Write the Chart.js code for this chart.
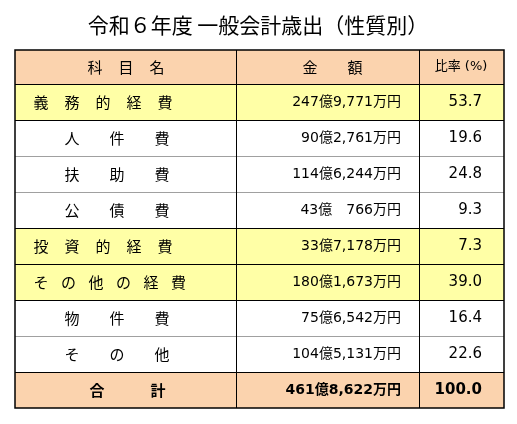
<!DOCTYPE html>
<html><head><meta charset="utf-8">
<script src="https://cdn.jsdelivr.net/npm/chart.js@4"></script>
<style>html,body{margin:0;padding:0;background:#fff}#w{width:517px;height:424px}</style>
</head><body><div id="w"><canvas id="c"></canvas></div>
<script>
const title = '令和６年度 一般会計歳出（性質別）';
const headers = ['科目名', '金　額', '比率 (%)'];
const names = ['義務的経費', '人件費', '扶助費', '公債費', '投資的経費', 'その他の経費', '物件費', 'その他', '合計'];
const amounts = ['247億9,771万円', '90億2,761万円', '114億6,244万円', '43億　766万円', '33億7,178万円', '180億1,673万円', '75億6,542万円', '104億5,131万円', '461億8,622万円'];
const ratios = [53.7, 19.6, 24.8, 9.3, 7.3, 39.0, 16.4, 22.6, 100.0];
const rowKinds = ['main', 'sub', 'sub', 'sub', 'main', 'main', 'sub', 'sub', 'total'];

const FONT = '"Noto Sans CJK JP", sans-serif';
const NUMFONT = '"DejaVu Sans", "Noto Sans CJK JP", sans-serif';
const tablePlugin = {
  id: 'table',
  afterDraw(chart) {
    const ctx = chart.ctx, X = chart.scales.x, Y = chart.scales.y;
    const px = v => X.getPixelForValue(v), py = v => Y.getPixelForValue(v);
    const L = 15, R = 504, c1 = 236, c2 = 419, top = 50, hh = 34, rh = 36;
    ctx.save();
    ctx.fillStyle = '#000'; ctx.textBaseline = 'middle';
    ctx.font = '21px ' + FONT; ctx.textAlign = 'center';
    ctx.fillText(title, px(258), py(25));
    const rowTop = i => top + hh + i * rh;
    ctx.fillStyle = '#fbd3ae';
    ctx.fillRect(px(L), py(top), px(R) - px(L), py(top + hh) - py(top));
    rowKinds.forEach((k, i) => {
      if (k === 'sub') return;
      ctx.fillStyle = k === 'main' ? '#ffffa6' : '#fbd3ae';
      ctx.fillRect(px(L), py(rowTop(i)), px(R) - px(L), py(rowTop(i) + rh) - py(rowTop(i)));
    });
    for (let i = 0; i < rowKinds.length; i++) {
      const y = py(rowTop(i)) + 0.5;
      const prevSub = i > 0 && rowKinds[i - 1] === 'sub' && rowKinds[i] === 'sub';
      ctx.strokeStyle = prevSub ? '#a0a0a0' : '#000'; ctx.lineWidth = 1;
      ctx.beginPath(); ctx.moveTo(px(L), y); ctx.lineTo(px(R), y); ctx.stroke();
    }
    ctx.strokeStyle = '#000'; ctx.lineWidth = 1.5;
    const bot = rowTop(rowKinds.length);
    ctx.strokeRect(px(L), py(top), px(R) - px(L), py(bot) - py(top));
    ctx.lineWidth = 1;
    [c1, c2].forEach(c => { ctx.beginPath(); ctx.moveTo(px(c) + .5, py(top)); ctx.lineTo(px(c) + .5, py(bot)); ctx.stroke(); });
    ctx.fillStyle = '#000'; ctx.font = '15px ' + FONT; ctx.textAlign = 'center';
    const hy = py(top + hh / 2);
    headers[0].split('').forEach((ch, j) => ctx.fillText(ch, px(95 + j * 31), hy));
    ctx.fillText(headers[1].split('　')[0], px(310), hy);
    ctx.fillText(headers[1].split('　')[1], px(355), hy);
    ctx.font = '13px ' + NUMFONT; ctx.fillText(headers[2], px(461), hy);
    rowKinds.forEach((k, i) => {
      const y = py(rowTop(i) + rh / 2);
      const bold = k === 'total' ? 'bold ' : '';
      ctx.font = bold + '15px ' + FONT; ctx.textAlign = 'center';
      const chs = names[i].split('');
      let xs;
      if (k === 'total') xs = [97, 158];
      else if (k === 'sub') xs = [72, 117, 162];
      else if (chs.length === 6) xs = chs.map((_, j) => 41 + j * 27.5);
      else xs = chs.map((_, j) => 41 + j * 31);
      chs.forEach((ch, j) => ctx.fillText(ch, px(xs[j]), y));
      ctx.textAlign = 'right';
      ctx.font = bold + '14px ' + NUMFONT;
      ctx.fillText(amounts[i], px(401), y);
      ctx.font = bold + '15px ' + NUMFONT;
      ctx.fillText(ratios[i].toFixed(1), px(482), y);
    });
    ctx.restore();
  }
};
new Chart(document.getElementById('c'), {
  type: 'scatter',
  data: { datasets: [{ data: [] }] },
  options: {
    responsive: true, maintainAspectRatio: false, animation: false,
    layout: { padding: 0 },
    plugins: { legend: { display: false }, tooltip: { enabled: false } },
    scales: {
      x: { type: 'linear', min: 0, max: 517, display: false },
      y: { type: 'linear', min: 0, max: 424, reverse: true, display: false }
    }
  },
  plugins: [tablePlugin]
});
</script></body></html>
